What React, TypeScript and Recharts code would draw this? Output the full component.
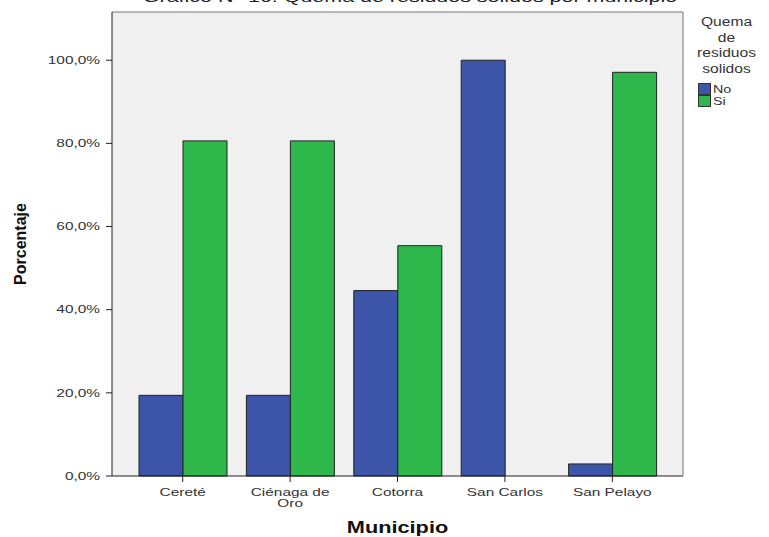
import { BarChart, Bar, XAxis, YAxis, Legend, CartesianGrid } from 'recharts';

const municipios = ['Cereté', 'Ciénaga de Oro', 'Cotorra', 'San Carlos', 'San Pelayo'];
const noValues = [19.4, 19.4, 44.6, 100, 2.9];
const siValues = [80.6, 80.6, 55.4, 0, 97.1];
const yTicks = [0, 20, 40, 60, 80, 100];

const data = municipios.map((m, i) => ({ municipio: m, No: noValues[i], Si: siValues[i] }));

const BLUE = '#3c55a8';
const GREEN = '#2eb84b';
const FONT = 'Arial, "Liberation Sans", sans-serif';
// the source picture is stretched sideways, so the text is widened to match
const SX = 1.4;

function XTick({ x, y, payload }: any) {
  const words = String(payload.value).split(' ');
  const lines = payload.value.length > 12 ? [words.slice(0, -1).join(' '), words[words.length - 1]] : [payload.value];
  return (
    <g transform={`translate(${x},${y + 4}) scale(${SX},1)`}>
      <text x={0} y={0} textAnchor="middle" fill="#333" fontSize={11} fontFamily={FONT}>
        {lines.map((l: string, i: number) => (
          <tspan key={i} x={0} dy={i === 0 ? 8 : 11}>{l}</tspan>
        ))}
      </text>
    </g>
  );
}

function YTick({ x, y, payload }: any) {
  return (
    <g transform={`translate(${x},${y}) scale(${SX},1)`}>
      <text x={0} y={0} textAnchor="end" dominantBaseline="central" fontSize={11} fill="#333" fontFamily={FONT}>
        {`${payload.value.toFixed(1).replace('.', ',')}%`}
      </text>
    </g>
  );
}

function XLabel({ viewBox }: any) {
  const { x, y, width, height } = viewBox;
  return (
    <g transform={`translate(${x + width / 2},${y + height - 9}) scale(1.36,1)`}>
      <text textAnchor="middle" dominantBaseline="central" fontSize={16} fontWeight="bold" fill="#111" fontFamily={FONT}>Municipio</text>
    </g>
  );
}

function YLabel({ viewBox }: any) {
  const { x, y, height } = viewBox;
  return (
    <g transform={`translate(${x + 20},${y + height / 2}) rotate(-90)`}>
      <text textAnchor="middle" dominantBaseline="central" fontSize={16} fontWeight="bold" fill="#111" fontFamily={FONT}>Porcentaje</text>
    </g>
  );
}

function LegendBox() {
  return (
    <div style={{ fontFamily: FONT, color: '#333', textAlign: 'center', fontSize: 12, lineHeight: '15.5px' }}>
      <div style={{ transform: 'scaleX(1.3)', marginTop: 1 }}>
        <div>Quema</div>
        <div>de</div>
        <div>residuos</div>
        <div>solidos</div>
      </div>
      <div style={{ marginTop: 6, marginLeft: 14, textAlign: 'left', fontSize: 11, lineHeight: '12px' }}>
        {[['No', BLUE], ['Si', GREEN]].map(([t, c]) => (
          <div key={t} style={{ display: 'flex', alignItems: 'center' }}>
            <span style={{ display: 'inline-block', width: 11, height: 10, background: c, border: '1px solid #333', marginRight: 2 }} />
            <span style={{ display: 'inline-block', transform: 'scaleX(1.3)', transformOrigin: 'left center' }}>{t}</span>
          </div>
        ))}
      </div>
    </div>
  );
}

export default function App() {
  return (
    <div style={{ position: 'fixed', top: 0, left: 0, width: 769, height: 537, background: '#fff', overflow: 'hidden' }}>
      <div style={{ position: 'absolute', top: -12, left: 10, width: 800, textAlign: 'center', fontFamily: FONT, fontSize: 15, color: '#222', transform: 'scaleX(1.43)' }}>
        Gráfico N° 16: Quema de residuos solidos por municipio
      </div>
      <BarChart width={769} height={537} data={data} margin={{ top: 11, right: 0, left: 0, bottom: 0 }} barCategoryGap={10} barGap={0}>
        <CartesianGrid fill="#f0f0f0" stroke="none" />
        <XAxis
          dataKey="municipio"
          height={61}
          padding={{ left: 17, right: 17 }}
          tick={<XTick />}
          tickLine={{ stroke: '#222' }}
          tickSize={6}
          axisLine={{ stroke: '#222' }}
          interval={0}
          label={<XLabel />}
        />
        <XAxis xAxisId="top" orientation="top" dataKey="municipio" height={1} tick={false} tickLine={false} axisLine={{ stroke: '#777' }} />
        <YAxis
          domain={[0, 111.6]}
          ticks={yTicks}
          width={112}
          tick={<YTick />}
          tickSize={6}
          tickMargin={6}
          tickLine={{ stroke: '#222' }}
          axisLine={{ stroke: '#222' }}
          label={<YLabel />}
        />
        <YAxis yAxisId="right" orientation="right" width={1} tick={false} tickLine={false} axisLine={{ stroke: '#777' }} />
        <Legend verticalAlign="top" align="right" layout="vertical" content={<LegendBox />} wrapperStyle={{ top: 14, right: 0, width: 85 }} />
        <Bar dataKey="No" fill={BLUE} stroke="#222" strokeWidth={1} isAnimationActive={false} />
        <Bar dataKey="Si" fill={GREEN} stroke="#222" strokeWidth={1} isAnimationActive={false} />
      </BarChart>
    </div>
  );
}
